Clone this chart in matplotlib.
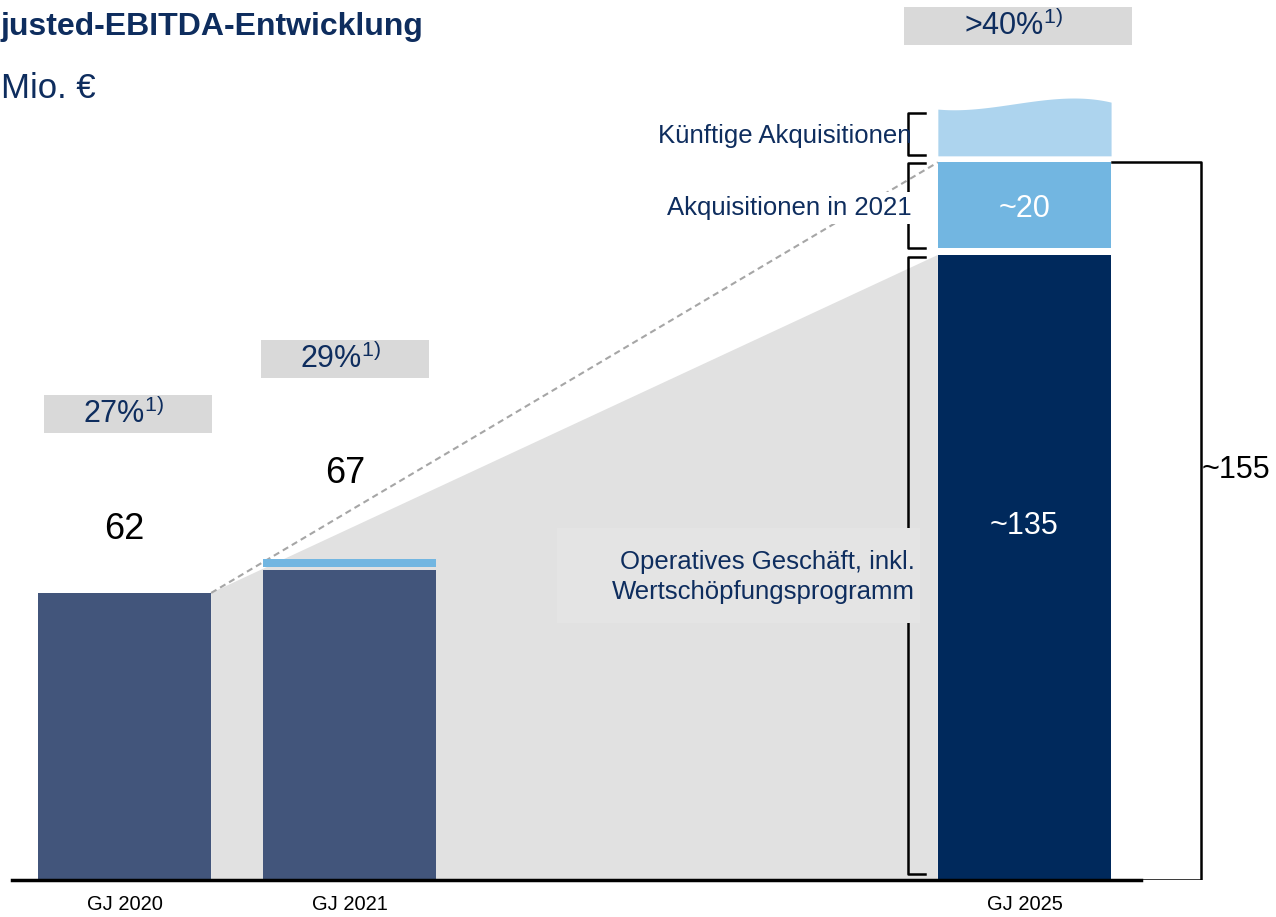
import numpy as np
import matplotlib
matplotlib.use("Agg")
import matplotlib.pyplot as plt
from matplotlib.patches import Rectangle

plt.rcParams['font.family'] = ['Liberation Sans', 'DejaVu Sans']
plt.rcParams['mathtext.fontset'] = 'custom'
plt.rcParams['mathtext.rm'] = 'Liberation Sans'
plt.rcParams['mathtext.it'] = 'Liberation Sans:italic'

# data
years = ['GJ 2020', 'GJ 2021', 'GJ 2025']
xpos = [0, 1, 4]
organic = [62, 67, 135]          # operatives Geschaeft
acq = [0, 2.3, 20]               # Akquisitionen in 2021
gaps = [0, 0.6, 1.4]
value_labels = ['62', '67']
value_label_x = [0, 0.98]
value_label_y = [75.6, 87.9]
margin_labels = ['27%', '29%', '>40%']
margin_box_x = [0.016, 0.98, 3.971]
margin_box_bottom = [96.5, 108.4, 180.3]
margin_box_width = [0.747, 0.747, 1.013]
total_2025 = '~155'
# wavy top of "Kuenftige Akquisitionen"
wave_dx = [-0.385, -0.05, 0.13, 0.385]
wave_top = [166.5, 167.6, 168.7, 168.0]

navy = '#0E2D5E'
old_bar = '#42557B'
new_bar = '#00295C'
light = '#72B6E1'
lighter = '#ADD4EE'

W, H = 1276, 917
fig = plt.figure(figsize=(W / 100, H / 100), dpi=100)
ax = fig.add_axes([0, 37 / H, 1, 880 / H])
ax.set_xlim(-0.5533, 5.118)
ax.set_ylim(0, 190.06)
for s in ax.spines.values():
    s.set_visible(False)
ax.set_yticks([])
ax.set_xticks(xpos, years)
ax.tick_params(axis='x', length=0, pad=11, labelsize=14.5)

bw = 0.77
xl = xpos[2] - bw / 2
xr0 = xpos[0] + bw / 2

# grey growth area
ax.fill([xr0, xr0, xl, xl], [0, organic[0], organic[2], 0], color='#E1E1E1', lw=0, zorder=1)
ax.plot([xr0, xl], [organic[0], organic[2] + acq[2]], ls=(0, (3, 2)), color='#A6A6A6', lw=1.5, zorder=2)

ax.bar(xpos, organic, width=bw, color=[old_bar, old_bar, new_bar], zorder=3)
acq_bottom = [o + g for o, g in zip(organic, gaps)]
acq_h = [o + a - b for o, a, b in zip(organic, acq, acq_bottom)]
ax.bar(xpos[1:], acq_h[1:], bottom=acq_bottom[1:], width=bw, color=light, zorder=3)

# future acquisitions
fut_bottom = organic[2] + acq[2] + gaps[2]
coef = np.polyfit(wave_dx, wave_top, 3)
xx = np.linspace(-bw / 2, bw / 2, 100)
ax.fill_between(xpos[2] + xx, fut_bottom, np.polyval(coef, xx), color=lighter, lw=0, zorder=3)

# brackets left of 2025
xb, xt = 3.482, 3.558
def bracket(y0, y1):
    ax.plot([xt, xb, xb, xt], [y1, y1, y0, y0], color='black', lw=1.8, zorder=3)

bracket(1.3, organic[2] - 0.4)
bracket(acq_bottom[2], organic[2] + acq[2] - 0.2)
bracket(fut_bottom + 0.2, 165.7)

# bracket total
ax.plot([4.389, 4.784, 4.784, 4.527], [organic[2] + acq[2], organic[2] + acq[2], 0, 0],
        color='black', lw=1.8, zorder=3)
ax.text(4.94, 88.6, total_2025, ha='center', va='center', fontsize=22, color='black')

# baseline
ax.plot([-0.5, 4.52], [0, 0], color='black', lw=2.5, zorder=5, clip_on=False)

# value labels
for i in range(2):
    ax.text(value_label_x[i], value_label_y[i], value_labels[i], ha='center', va='center',
            fontsize=26, color='black')
ax.text(xpos[2], organic[2] / 2 + 9, '~' + str(organic[2]), ha='center', va='center',
        fontsize=22, color='white', zorder=4)
ax.text(xpos[2], organic[2] + acq[2] / 2, '~' + str(acq[2]), ha='center', va='center',
        fontsize=22, color='white', zorder=4)

# segment labels
ax.text(3.5, 160.7, 'Künftige Akquisitionen', ha='right', va='center', fontsize=18.5, color=navy, zorder=4)
ax.text(3.5, 145.1, 'Akquisitionen in 2021', ha='right', va='center', fontsize=18.5, color=navy, zorder=4,
        bbox=dict(facecolor='white', edgecolor='none', pad=3))
ax.add_patch(Rectangle((1.922, 55.5), 1.614, 20.5, facecolor='#E4E4E4', edgecolor='none', zorder=3.5))
ax.text(3.513, 65.5, 'Operatives Geschäft, inkl.\nWertschöpfungsprogramm', ha='right', va='center',
        fontsize=18.5, color=navy, zorder=4, linespacing=1.3)

# margin boxes
for i, lab in enumerate(margin_labels):
    bx = margin_box_width[i]
    ax.add_patch(Rectangle((margin_box_x[i] - bx / 2, margin_box_bottom[i]), bx, 8.3,
                           facecolor='#D9D9D9', edgecolor='none', zorder=2))
    ax.text(margin_box_x[i] - 0.02, margin_box_bottom[i] + 4.1, lab + r'$^{\mathrm{1)}}$',
            ha='center', va='center', fontsize=22, color=navy, zorder=4)

# title
fig.text(1 / W, 1 - 27 / H, 'justed-EBITDA-Entwicklung', ha='left', va='center',
         fontsize=23, fontweight='bold', color=navy)
fig.text(1 / W, 1 - 88 / H, 'Mio. €', ha='left', va='center', fontsize=25, color=navy)

fig.savefig('out.png', dpi=100)
